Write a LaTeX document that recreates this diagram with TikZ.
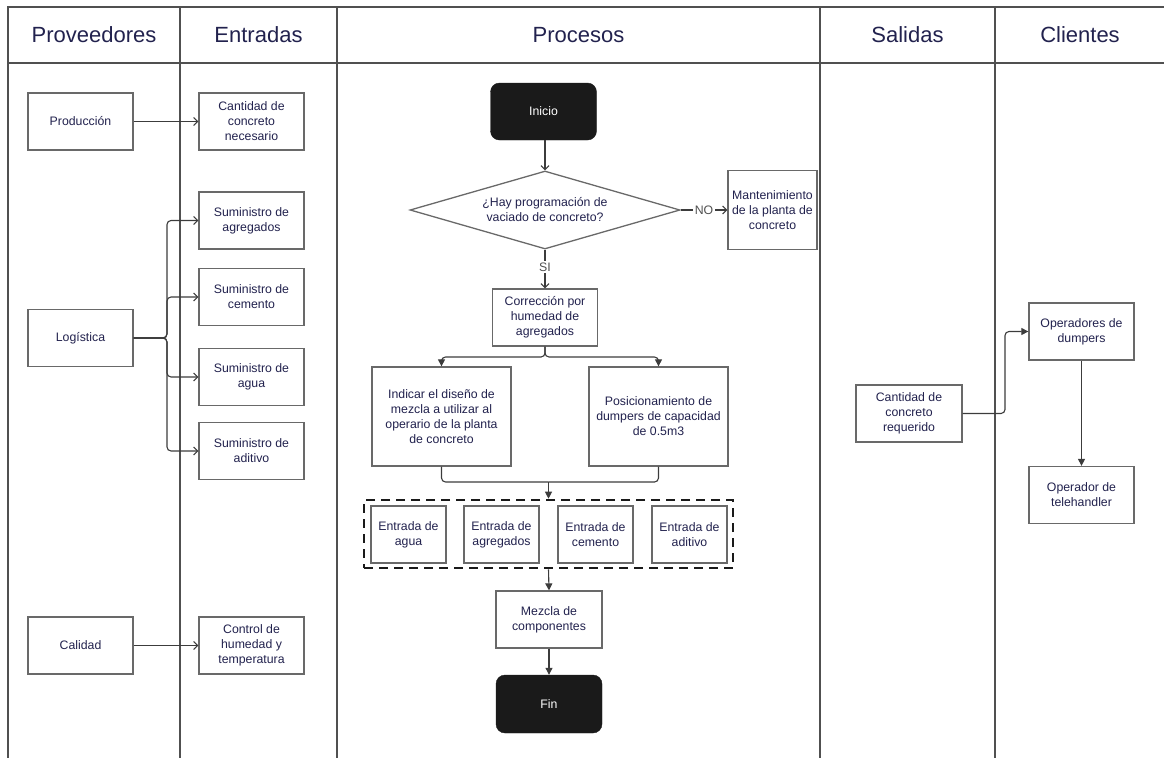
\documentclass[tikz,border=0pt]{standalone}
\usepackage{fontspec}
\setmainfont{Liberation Sans}
\usetikzlibrary{arrows.meta,shapes.geometric}
\definecolor{ink}{RGB}{34,34,78}
\definecolor{framec}{RGB}{80,80,80}
\definecolor{edgec}{RGB}{105,105,105}
\definecolor{wirec}{RGB}{60,60,60}
\definecolor{termc}{RGB}{26,26,26}
\begin{document}
\begin{tikzpicture}[x=1pt,y=-1pt,
  lane/.style={draw=framec,line width=2pt},
  head/.style={font=\fontsize{22}{26}\selectfont,text=ink},
  box/.style={draw=edgec,line width=1.3pt,fill=white,align=center,text=ink,
    font=\fontsize{12.3}{15}\selectfont,inner sep=2pt,
    minimum width=105pt,minimum height=57pt},
  termbox/.style={fill=termc,draw=termc,rounded corners=9pt,text=white,
    font=\fontsize{12.3}{15}\selectfont,minimum width=106pt,minimum height=57pt},
  opn/.style={draw=wirec,line width=1.1pt,-{Straight Barb[length=4pt,width=8pt]}},
  sld/.style={draw=wirec,line width=1.1pt,-{Triangle[length=7pt,width=7pt]}},
  plain/.style={draw=wirec,line width=1.1pt},
  lbl/.style={fill=white,text=framec,font=\fontsize{12.3}{15}\selectfont,inner sep=1.5pt}
]
\useasboundingbox (0,0) rectangle (1164,758);

% swimlane frame
\draw[lane] (1164,7) -- (7.5,7) -- (7.5,758);
\draw[lane] (7.5,63) -- (1164,63);
\draw[lane,line width=2.6pt] (180,7) -- (180,758);
\foreach \x in {337,820,995} \draw[lane] (\x,7) -- (\x,758);

% lane headers
\node[head] (hprov) at (94,35) {Proveedores};
\node[head] (hent) at (258.5,35) {Entradas};
\node[head] (hproc) at (578.5,35) {Procesos};
\node[head] (hsal) at (907.5,35) {Salidas};
\node[head] (hcli) at (1080,35) {Clientes};

% suppliers
\node[box] (prod) at (80.5,121.5) {Producción};
\node[box] (log) at (80.5,338) {Logística};
\node[box] (cal) at (80.5,645.5) {Calidad};

% inputs
\node[box] (cant) at (251.5,121.5) {Cantidad de\\concreto\\necesario};
\node[box] (sagr) at (251.5,220.5) {Suministro de\\agregados};
\node[box] (scem) at (251.5,297) {Suministro de\\cemento};
\node[box] (sagu) at (251.5,377) {Suministro de\\agua};
\node[box] (sadi) at (251.5,451) {Suministro de\\aditivo};
\node[box] (ctrl) at (251.5,645.5) {Control de\\humedad y\\temperatura};

% process
\node[termbox] (ini) at (543.5,111.5) {Inicio};
\node[shape=diamond,draw=edgec,line width=1.3pt,fill=white,inner sep=0pt,
  minimum width=270pt,minimum height=78pt,aspect=3.46,align=center,text=ink,
  font=\fontsize{12.3}{15}\selectfont] (dec) at (545,210) {¿Hay programación de\\vaciado de concreto?};
\node[box,minimum width=89pt,minimum height=79pt,inner sep=1pt] (mant) at (772.5,210) {Mantenimiento\\de la planta de\\concreto};
\node[box] (cor) at (545,317.5) {Corrección por\\humedad de\\agregados};
\node[box,minimum width=139pt,minimum height=99pt] (ind) at (441.5,416.5) {Indicar el diseño de\\mezcla a utilizar al\\operario de la planta\\de concreto};
\node[box,minimum width=139pt,minimum height=99pt] (pos) at (658.5,416.5) {Posicionamiento de\\dumpers de capacidad\\de 0.5m3};
\node[draw=termc,line width=2.6pt,dash pattern=on 9pt off 6pt,
  minimum width=369pt,minimum height=68pt] (grp) at (548.5,534) {};
\node[box,minimum width=75pt] (e1) at (408.5,534.5) {Entrada de\\agua};
\node[box,minimum width=75pt] (e2) at (501.5,534.5) {Entrada de\\agregados};
\node[box,minimum width=75pt] (e3) at (595.5,534.5) {Entrada de\\cemento};
\node[box,minimum width=75pt] (e4) at (689.5,534.5) {Entrada de\\aditivo};
\node[box,minimum width=106pt] (mez) at (549,619.5) {Mezcla de\\componentes};
\node[termbox,minimum height=58pt] (fin) at (549,704) {Fin};

% outputs and customers
\node[box,minimum width=106pt] (req) at (909,413.5) {Cantidad de\\concreto\\requerido};
\node[box] (ope) at (1081.5,331.5) {Operadores de\\dumpers};
\node[box] (tel) at (1081.5,495) {Operador de\\telehandler};

% supplier to input connectors
\coordinate (lj) at (167,338);
\draw[opn] (prod) -- (cant);
\draw[opn,rounded corners=4pt] (log.east) -- (lj) |- (sagr.west);
\draw[opn,rounded corners=4pt] (log.east) -- (lj) |- (scem.west);
\draw[opn,rounded corners=4pt] (log.east) -- (lj) |- (sagu.west);
\draw[opn,rounded corners=4pt] (log.east) -- (lj) |- (sadi.west);
\draw[opn] (cal) -- (ctrl);

% process flow
\draw[opn] (ini.south -| dec.north) -- (dec.north);
\draw[opn] (dec.east) -- node[lbl] {NO} (mant.west);
\draw[opn] (dec.south) -- node[lbl,pos=0.45] {SI} (cor.north);
\coordinate (split) at (545,357);
\draw[sld,rounded corners=4pt] (cor.south) -- (split) -| (ind.north);
\draw[sld,rounded corners=4pt] (cor.south) -- (split) -| (pos.north);
\coordinate (merge) at (548.5,482);
\draw[plain,rounded corners=4pt] (ind.south) |- (merge);
\draw[plain,rounded corners=4pt] (pos.south) |- (merge);
\draw[sld] (merge) -- (grp.north);
\draw[sld] (grp.south) -- (mez.north);
\draw[sld] (mez) -- (fin);

% output to customers
\coordinate (rj) at (1005,413.5);
\draw[sld,rounded corners=4pt] (req.east) -- (rj) |- (ope.west);
\draw[sld] (ope) -- (tel);
\end{tikzpicture}
\end{document}
